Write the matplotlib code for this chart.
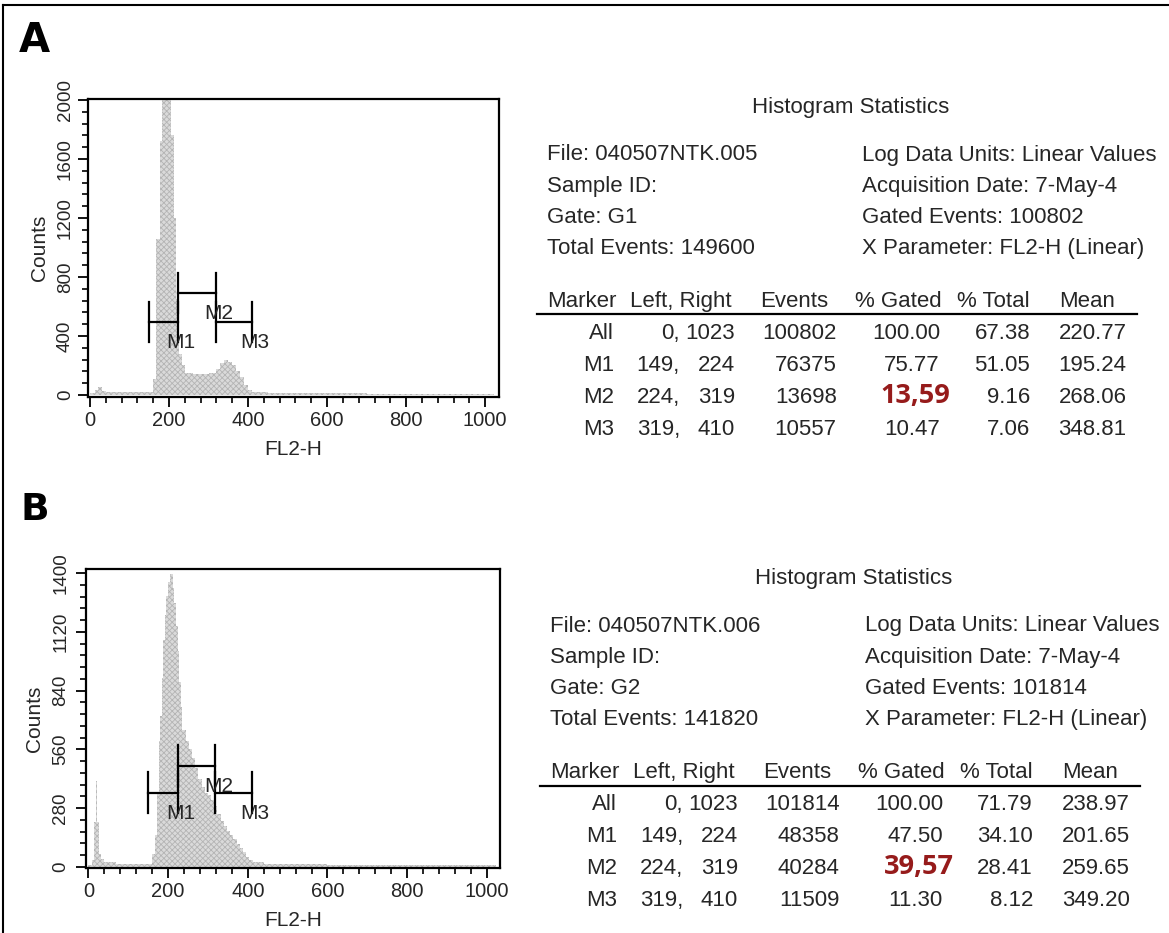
import matplotlib.pyplot as plt
from matplotlib.lines import Line2D
from matplotlib.ticker import MultipleLocator

plt.rcParams['font.family'] = ['Liberation Sans', 'DejaVu Sans']
plt.rcParams['hatch.linewidth'] = 0.6

W, H = 1169, 933

# histogram A: FL2-H bin edges and counts (peak is cut by the 2000 ceiling)
edges_a = [0, 12, 20, 30, 40, 60, 100, 140, 160, 168, 176, 182, 206, 212,
           218, 226, 232, 240, 260, 280, 300, 320, 330, 340, 350, 360, 370, 380,
           390, 400, 410, 420, 450, 500, 550, 600, 700, 800, 900, 1023]
counts_a = [15, 35, 55, 30, 20, 18, 18, 22, 110, 1060, 1720, 2400, 1760,
            1200, 650, 280, 200, 150, 140, 145, 150, 175, 215, 235, 225, 200,
            160, 120, 70, 35, 20, 18, 15, 14, 12, 10, 8, 6, 5]

# histogram B
edges_b = [0, 10, 14, 18, 22, 26, 32, 40, 70, 160, 166, 172, 176, 180, 184, 188,
           192, 196, 200, 204, 212, 216, 220, 224, 228, 232, 236, 244, 252, 260,
           268, 276, 284, 292, 300, 308, 316, 324, 332, 340, 348, 356, 364, 372,
           380, 388, 396, 404, 412, 440, 500, 600, 700, 1023]
counts_b = [10, 30, 215, 410, 215, 60, 35, 25, 15, 60, 150, 350, 600, 720, 900,
            1080, 1200, 1290, 1360, 1395, 1330, 1260, 1150, 1030, 880, 760, 650,
            600, 560, 520, 470, 420, 380, 350, 340, 320, 290, 250, 220, 195, 170,
            150, 130, 110, 90, 70, 45, 30, 22, 15, 12, 8, 6]

xticks = [0, 200, 400, 600, 800, 1000]
yticks_a = [0, 400, 800, 1200, 1600, 2000]
yticks_b = [0, 280, 560, 840, 1120, 1400]

marker_names = ['M1', 'M2', 'M3']
marker_left = [149, 224, 319]
marker_right = [224, 319, 410]

# statistics tables
info_left_a = ['File: 040507NTK.005', 'Sample ID:', 'Gate: G1', 'Total Events: 149600']
info_right_a = ['Log Data Units: Linear Values', 'Acquisition Date: 7-May-4',
                'Gated Events: 100802', 'X Parameter: FL2-H (Linear)']
info_left_b = ['File: 040507NTK.006', 'Sample ID:', 'Gate: G2', 'Total Events: 141820']
info_right_b = ['Log Data Units: Linear Values', 'Acquisition Date: 7-May-4',
                'Gated Events: 101814', 'X Parameter: FL2-H (Linear)']

headers = ['Marker', 'Left, Right', 'Events', '% Gated', '% Total', 'Mean']
row_names = ['All', 'M1', 'M2', 'M3']
row_left = [0, 149, 224, 319]
row_right = [1023, 224, 319, 410]

events_a = [100802, 76375, 13698, 10557]
gated_a = [100.00, 75.77, 13.59, 10.47]
total_a = [67.38, 51.05, 9.16, 7.06]
mean_a = [220.77, 195.24, 268.06, 348.81]

events_b = [101814, 48358, 40284, 11509]
gated_b = [100.00, 47.50, 39.57, 11.30]
total_b = [71.79, 34.10, 28.41, 8.12]
mean_b = [238.97, 201.65, 259.65, 349.20]

highlight_row = 2
TXT = '#262626'
RED = '#961b1b'


def fx(x):
    return x / W


def fy(y):
    return 1 - y / H


def histogram(box, edges, counts, yticks, xlim, ylim, yminor, levels, half, ypad):
    left, top, right, bottom = box
    ax = fig.add_axes([fx(left), fy(bottom), (right - left) / W, (bottom - top) / H])
    ax.fill_between(edges, list(counts) + [counts[-1]], step='post',
                    facecolor='#dadada', edgecolor='#b4b4b4', hatch='xxxxxx', lw=0)
    ax.set_xlim(*xlim)
    ax.set_ylim(*ylim)
    ax.set_xticks(xticks)
    ax.set_yticks(yticks)
    ax.xaxis.set_minor_locator(MultipleLocator(40))
    ax.yaxis.set_minor_locator(MultipleLocator(yminor))
    ax.tick_params(which='major', direction='out', length=7, width=1.3,
                   colors='black', labelcolor=TXT)
    ax.tick_params(which='minor', direction='out', length=4, width=1.2, colors='black')
    ax.tick_params(axis='x', labelsize=14.5, pad=3)
    ax.tick_params(axis='y', labelsize=13.5, labelrotation=90, pad=ypad)
    for lab in ax.get_yticklabels():
        lab.set_va('center')
    for s in ax.spines.values():
        s.set_linewidth(1.6)
    ax.set_xlabel('FL2-H', fontsize=15, color=TXT, labelpad=7)
    ax.set_ylabel('Counts', fontsize=15, color=TXT, labelpad=6)

    for name, l, r, lv in zip(marker_names, marker_left, marker_right, levels):
        ax.plot([l, r], [lv, lv], color='black', lw=1.6)
        ax.plot([l, l], [lv - half, lv + half], color='black', lw=1.6)
        ax.plot([r, r], [lv - half, lv + half], color='black', lw=1.6)
        ax.annotate(name, (r, lv), xytext=(2, -8), textcoords='offset points',
                    ha='center', va='top', fontsize=15, color=TXT)
    return ax


def stats(dx, dy, info_left, info_right, events, gated, total, mean):
    def t(x, y, s, **kw):
        kw.setdefault('fontsize', 16)
        kw.setdefault('color', TXT)
        fig.text(fx(x + dx), fy(y + dy), s, va='baseline', **kw)

    t(850.8, 113, 'Histogram Statistics', ha='center')
    for i, (a, b) in enumerate(zip(info_left, info_right)):
        t(546.7, 160.5 + 31.1 * i, a, ha='left')
        t(861.7, 160.5 + 31.1 * i, b, ha='left')

    for h, x in zip(headers, [546.7, 630, 760, 855, 957.3, 1059.3]):
        t(x, 306.7, h, ha='left')
    fig.add_artist(Line2D([fx(536.7 + dx), fx(1136.7 + dx)], [fy(314.5 + dy)] * 2,
                          color='black', lw=1.6))

    for i in range(len(row_names)):
        y = 339.3 + 31.9 * i
        t(614, y, row_names[i], ha='right')
        t(680, y, f'{row_left[i]},', ha='right')
        t(735, y, f'{row_right[i]}', ha='right')
        t(836.7, y, f'{events[i]}', ha='right')
        if i == highlight_row:
            t(915.5, y, f'{gated[i]:.2f}'.replace('.', ','), ha='center',
              fontsize=19.5, color=RED, family='Open Sans', weight='bold')
        else:
            t(940, y, f'{gated[i]:.2f}', ha='right')
        t(1030, y, f'{total[i]:.2f}', ha='right')
        t(1126.7, y, f'{mean[i]:.2f}', ha='right')


fig = plt.figure(figsize=(W / 100, H / 100), dpi=100)

# outer frame (left and top edges only)
fig.add_artist(Line2D([fx(3), fx(3)], [fy(5), 0], color='black', lw=1.5))
fig.add_artist(Line2D([fx(3), 1], [fy(5), fy(5)], color='black', lw=1.5))

fig.text(fx(19), fy(52), 'A', fontsize=29, weight='heavy', family='DejaVu Sans')
fig.text(fx(21), fy(520), 'B', fontsize=27, weight='heavy', family='DejaVu Sans')

histogram((88, 99, 499, 397), edges_a, counts_a, yticks_a, (-5, 1035), (-14, 2007),
          80, [497, 690, 497], 136, 3)
histogram((86, 569, 500, 868), edges_b, counts_b, yticks_b, (-6, 1033), (-6, 1420),
          56, [353, 482, 353], 97, 5)

stats(0, 0, info_left_a, info_right_a, events_a, gated_a, total_a, mean_a)
stats(3, 471, info_left_b, info_right_b, events_b, gated_b, total_b, mean_b)

fig.savefig('out.png', dpi=100)
